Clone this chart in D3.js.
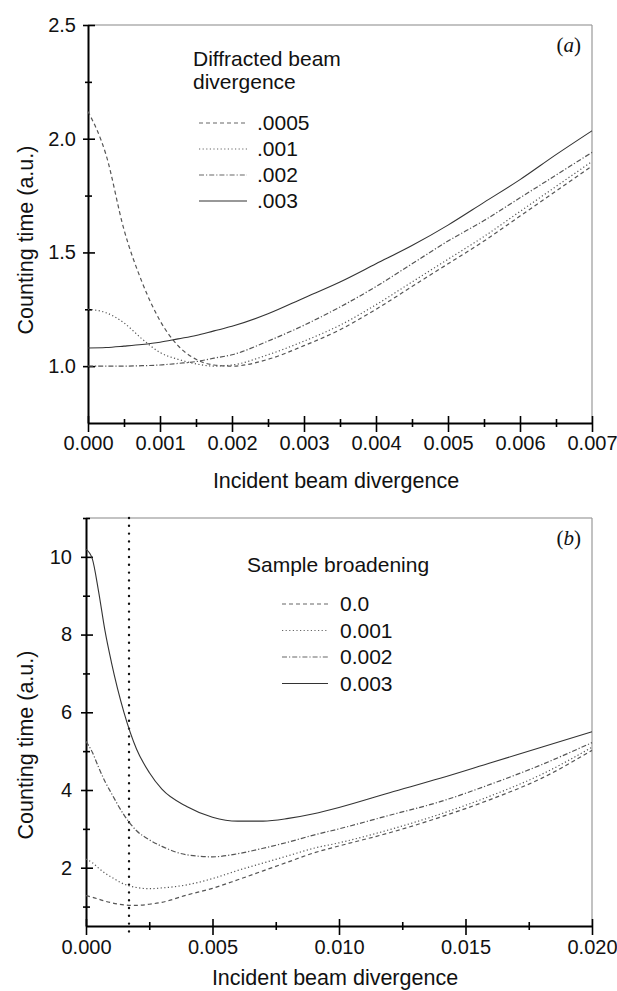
<!DOCTYPE html>
<html>
<head>
<meta charset="utf-8">
<script src="https://cdn.jsdelivr.net/npm/d3@7"></script>
<style>
  body { margin: 0; background: #fff; }
  svg text { font-family: "Liberation Sans", Arial, sans-serif; fill: #111; }
</style>
</head>
<body>
<svg id="chart" width="617" height="991"></svg>
<script>
// panel (a) data
var aX = [0, 0.00025, 0.0005, 0.00075, 0.001, 0.00125, 0.0015, 0.00175, 0.002, 0.0025, 0.003, 0.0035, 0.004, 0.0045, 0.005, 0.0055, 0.006, 0.0065, 0.007];
var aLabels = [".0005", ".001", ".002", ".003"];
var a0005 = [2.12, 1.93, 1.60, 1.37, 1.20, 1.09, 1.03, 1.005, 1.0, 1.03, 1.09, 1.16, 1.25, 1.35, 1.45, 1.55, 1.66, 1.77, 1.88];
var a001  = [1.25, 1.235, 1.19, 1.12, 1.06, 1.03, 1.01, 1.0, 1.005, 1.05, 1.11, 1.18, 1.27, 1.37, 1.47, 1.57, 1.68, 1.79, 1.90];
var a002  = [1.0, 1.0, 1.0, 1.002, 1.005, 1.012, 1.02, 1.035, 1.05, 1.11, 1.18, 1.26, 1.35, 1.45, 1.55, 1.64, 1.74, 1.84, 1.94];
var a003  = [1.08, 1.082, 1.088, 1.095, 1.105, 1.12, 1.135, 1.155, 1.175, 1.23, 1.30, 1.37, 1.45, 1.53, 1.62, 1.72, 1.82, 1.93, 2.035];
var aXTicks = [0, 0.001, 0.002, 0.003, 0.004, 0.005, 0.006, 0.007];
var aYTicks = [1.0, 1.5, 2.0, 2.5];

// panel (b) data
var bX = [0, 0.00025, 0.0005, 0.00075, 0.001, 0.0015, 0.002, 0.0025, 0.003, 0.004, 0.005, 0.006, 0.007, 0.008, 0.009, 0.010, 0.012, 0.014, 0.016, 0.018, 0.020];
var bLabels = ["0.0", "0.001", "0.002", "0.003"];
var b000 = [1.28, 1.24, 1.19, 1.14, 1.10, 1.045, 1.03, 1.06, 1.11, 1.30, 1.47, 1.69, 1.92, 2.15, 2.38, 2.56, 2.90, 3.30, 3.76, 4.30, 5.02];
var b001 = [2.22, 2.13, 1.99, 1.86, 1.76, 1.58, 1.49, 1.46, 1.48, 1.56, 1.72, 1.93, 2.12, 2.31, 2.50, 2.64, 2.98, 3.38, 3.85, 4.40, 5.10];
var b002 = [5.25, 4.97, 4.58, 4.22, 3.92, 3.36, 2.95, 2.72, 2.55, 2.33, 2.28, 2.36, 2.50, 2.66, 2.84, 3.00, 3.35, 3.70, 4.15, 4.65, 5.22];
var b003 = [10.2, 9.95, 9.1, 8.1, 7.3, 6.0, 5.05, 4.45, 4.02, 3.57, 3.3, 3.2, 3.2, 3.27, 3.39, 3.55, 3.93, 4.30, 4.70, 5.10, 5.50];
var bXTicks = [0, 0.005, 0.010, 0.015, 0.020];
var bYTicks = [2, 4, 6, 8, 10];
var bMarker = 0.0017;

var dashes = ["4,3", "1.2,2.4", "5,2,1.2,2", null];
var svg = d3.select("#chart");

function drawPanel(p) {
  var g = svg.append("g");
  var x = d3.scaleLinear().domain(p.xDomain).range([p.left, p.right]);
  var y = d3.scaleLinear().domain(p.yDomain).range([p.bottom, p.top]);

  // grey frame on top and right
  g.append("line").attr("x1", p.left).attr("x2", p.right).attr("y1", p.top).attr("y2", p.top)
    .attr("stroke", "#888").attr("stroke-width", 1.2);
  g.append("line").attr("x1", p.right).attr("x2", p.right).attr("y1", p.top).attr("y2", p.bottom)
    .attr("stroke", "#999").attr("stroke-width", 1.2);

  // minor ticks first
  var xMinor = g.append("g").attr("transform", "translate(0," + p.bottom + ")")
    .call(d3.axisBottom(x).tickValues(p.xMinor).tickSize(4).tickFormat(""));
  xMinor.selectAll(".tick line").attr("y1", -4).attr("stroke-width", 1.6);
  xMinor.select(".domain").remove();
  var yMinor = g.append("g").attr("transform", "translate(" + p.left + ",0)")
    .call(d3.axisLeft(y).tickValues(p.yMinor).tickSize(3).tickFormat(""));
  yMinor.selectAll(".tick line").attr("x1", 4).attr("stroke-width", 1.6);
  yMinor.select(".domain").remove();

  var xAxis = g.append("g").attr("transform", "translate(0," + p.bottom + ")")
    .call(d3.axisBottom(x).tickValues(p.xTicks).tickSize(9).tickPadding(p.xPad).tickSizeOuter(0)
      .tickFormat(d3.format(".3f")));
  xAxis.selectAll(".tick line").attr("y1", -7).attr("stroke-width", 1.6);
  xAxis.select(".domain").attr("stroke-width", 2);
  xAxis.selectAll("text").attr("font-size", 20).attr("font-family", "Liberation Sans, Arial");

  var yAxis = g.append("g").attr("transform", "translate(" + p.left + ",0)")
    .call(d3.axisLeft(y).tickValues(p.yTicks).tickSize(5).tickPadding(p.yPad).tickSizeOuter(0)
      .tickFormat(p.yFormat));
  yAxis.selectAll(".tick line").attr("x1", 7).attr("stroke-width", 1.6);
  yAxis.select(".domain").attr("stroke-width", 2);
  yAxis.selectAll("text").attr("font-size", 20).attr("font-family", "Liberation Sans, Arial");

  // axis titles
  g.append("text").attr("x", (p.left + p.right) / 2 - 4).attr("y", p.xTitleY)
    .attr("text-anchor", "middle").attr("font-size", 21.5).text("Incident beam divergence");
  g.append("text").attr("transform", "translate(" + p.yTitleX + "," + p.yTitleY + ") rotate(-90)")
    .attr("text-anchor", "middle").attr("font-size", 21.5).text("Counting time (a.u.)");

  // panel letter
  var lt = g.append("text").attr("x", p.right - 11).attr("y", p.top + 27).attr("text-anchor", "end")
    .attr("font-size", 21).style("font-family", "Liberation Serif, Times New Roman, serif");
  lt.append("tspan").text("(");
  lt.append("tspan").attr("font-style", "italic").text(p.letter);
  lt.append("tspan").text(")");

  if (p.marker != null) {
    g.append("line").attr("x1", x(p.marker)).attr("x2", x(p.marker))
      .attr("y1", p.top).attr("y2", p.bottom + 10)
      .attr("stroke", "#111").attr("stroke-width", 2.4)
      .attr("stroke-linecap", "round").attr("stroke-dasharray", "0,7.8");
  }

  // curves
  var line = d3.line().x(function(d) { return x(d[0]); }).y(function(d) { return y(d[1]); })
    .curve(d3.curveMonotoneX);
  p.series.forEach(function(s, i) {
    var pts = p.xs.map(function(v, j) { return [v, s[j]]; });
    g.append("path").datum(pts).attr("d", line).attr("fill", "none")
      .attr("stroke", i == 3 ? "#333" : "#555").attr("stroke-width", i == 3 ? 1.1 : 1.2)
      .attr("stroke-dasharray", dashes[i]);
  });

  // legend
  p.legendTitle.forEach(function(t, i) {
    g.append("text").attr("x", p.legX).attr("y", p.legTitleY + i * 23).attr("font-size", 21).text(t);
  });
  p.labels.forEach(function(lab, i) {
    var yy = p.legY + i * p.legStep;
    g.append("line").attr("x1", p.legLine[0]).attr("x2", p.legLine[1]).attr("y1", yy).attr("y2", yy)
      .attr("stroke", i == 3 ? "#333" : "#666").attr("stroke-width", 1.1)
      .attr("stroke-dasharray", dashes[i]);
    g.append("text").attr("x", p.legText).attr("y", yy + 7).attr("font-size", 21).text(lab);
  });
}

drawPanel({
  left: 88, right: 592, top: 25, bottom: 423,
  xDomain: [0, 0.007], yDomain: [0.75, 2.5],
  xTicks: aXTicks, xMinor: [0.0005, 0.0015, 0.0025, 0.0035, 0.0045, 0.0055, 0.0065],
  yTicks: aYTicks, yMinor: [1.25, 1.75, 2.25], yFormat: d3.format(".1f"),
  xPad: 4, yPad: 7, xTitleY: 488, yTitleX: 33, yTitleY: 240,
  letter: "a", marker: null,
  xs: aX, series: [a0005, a001, a002, a003], labels: aLabels,
  legendTitle: ["Diffracted beam", "divergence"], legX: 193, legTitleY: 66,
  legY: 123, legStep: 26, legLine: [199, 247], legText: 257
});

drawPanel({
  left: 86, right: 592, top: 518, bottom: 926,
  xDomain: [0, 0.020], yDomain: [0.5, 11],
  xTicks: bXTicks, xMinor: [0.0025, 0.0075, 0.0125, 0.0175],
  yTicks: bYTicks, yMinor: [1, 3, 5, 7, 9, 11], yFormat: d3.format("d"),
  xPad: 5, yPad: 9, xTitleY: 985, yTitleX: 33, yTitleY: 745,
  letter: "b", marker: bMarker,
  xs: bX, series: [b000, b001, b002, b003], labels: bLabels,
  legendTitle: ["Sample broadening"], legX: 247, legTitleY: 572,
  legY: 604, legStep: 26.5, legLine: [282, 328], legText: 340
});
</script>
</body>
</html>
